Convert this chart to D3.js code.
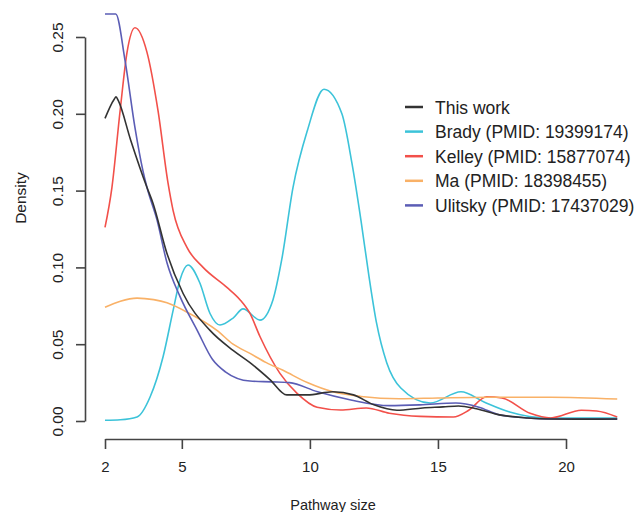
<!DOCTYPE html>
<html>
<head>
<meta charset="utf-8">
<script src="https://cdn.jsdelivr.net/npm/d3@7"></script>
<style>
  html, body { margin: 0; padding: 0; background: #fff; }
  svg { display: block; }
  text { font-family: "Liberation Sans", Arial, Helvetica, sans-serif; fill: #222; }
</style>
</head>
<body>
<svg id="chart" width="637" height="512"></svg>
<script>
// ---- data ----
const seriesNames = ["This work", "Brady (PMID: 19399174)", "Kelley (PMID: 15877074)", "Ma (PMID: 18398455)", "Ulitsky (PMID: 17437029)"];
const seriesColors = ["#333333", "#3cc3d9", "#f2504a", "#f9b167", "#5b5db5"];

const thisWorkX = [2, 2.36, 2.43, 2.52, 3.0, 3.64, 3.87, 4.42, 5.05, 6.1, 7.0, 7.66, 8.44, 9.1, 9.9, 10.9, 11.7, 12.5, 13.4, 14.4, 15.2, 15.8, 16.5, 17.4, 18.5, 19.4, 20.5, 22];
const thisWorkY = [0.197, 0.2095, 0.211, 0.2085, 0.183, 0.152, 0.142, 0.109, 0.083, 0.059, 0.046, 0.038, 0.027, 0.017, 0.017, 0.019, 0.017, 0.0105, 0.007, 0.0085, 0.0092, 0.0098, 0.008, 0.004, 0.002, 0.0013, 0.0012, 0.0013];

const bradyX = [2, 2.6, 3.25, 3.76, 4.27, 4.66, 4.93, 5.24, 5.7, 6.1, 6.49, 7.0, 7.39, 8.05, 8.56, 8.9, 9.34, 9.9, 10.55, 11.25, 11.64, 12.0, 12.3, 12.6, 13.0, 13.55, 14.7, 15.9, 16.8, 17.8, 19.3, 22];
const bradyY = [0.0005, 0.0008, 0.0026, 0.0156, 0.042, 0.072, 0.092, 0.1016, 0.090, 0.070, 0.0625, 0.067, 0.073, 0.0657, 0.079, 0.105, 0.152, 0.189, 0.216, 0.200, 0.168, 0.130, 0.095, 0.064, 0.038, 0.0215, 0.0117, 0.019, 0.0124, 0.0059, 0.002, 0.002];

const kelleyX = [2, 2.27, 2.59, 2.86, 3.17, 3.64, 4.07, 4.46, 4.66, 5.2, 5.83, 6.76, 7.27, 7.66, 8.05, 8.83, 9.5, 10.28, 11.2, 12.2, 13.1, 14.3, 15.6, 16.2, 16.9, 17.5, 18.6, 19.4, 20.6, 21.2, 22];
const kelleyY = [0.126, 0.152, 0.202, 0.240, 0.256, 0.240, 0.202, 0.155, 0.137, 0.113, 0.100, 0.087, 0.079, 0.070, 0.055, 0.031, 0.018, 0.009, 0.0072, 0.0085, 0.005, 0.003, 0.0026, 0.007, 0.0158, 0.015, 0.005, 0.002, 0.007, 0.0065, 0.0026];

const maX = [2, 2.6, 3.25, 3.9, 4.42, 5.3, 6.37, 7.0, 7.66, 8.3, 8.95, 9.9, 10.9, 12.0, 13.5, 15.0, 17.0, 19.4, 22];
const maY = [0.074, 0.078, 0.080, 0.079, 0.077, 0.070, 0.059, 0.050, 0.044, 0.038, 0.033, 0.025, 0.019, 0.016, 0.0145, 0.015, 0.0155, 0.0155, 0.0143];

const ulitskyX = [2, 2.42, 2.78, 3.17, 3.48, 3.64, 4.03, 4.42, 4.93, 5.6, 6.2, 6.7, 7.66, 8.5, 9.2, 10.3, 11.6, 13.1, 14.3, 15.7, 16.6, 17.4, 18.5, 19.4, 22];
const ulitskyY = [0.265, 0.265, 0.235, 0.191, 0.163, 0.152, 0.131, 0.103, 0.081, 0.059, 0.040, 0.032, 0.026, 0.0255, 0.025, 0.019, 0.0137, 0.010, 0.0105, 0.0117, 0.009, 0.004, 0.002, 0.0013, 0.0012];

const xTicks = [2, 5, 10, 15, 20];
const yTicks = [0.00, 0.05, 0.10, 0.15, 0.20, 0.25];
const xTitle = "Pathway size";
const yTitle = "Density";

// ---- build ----
const svg = d3.select("#chart");
const x = d3.scaleLinear().domain([2, 20]).range([105, 566]);
const y = d3.scaleLinear().domain([0, 0.25]).range([421, 37]);

const allX = [thisWorkX, bradyX, kelleyX, maX, ulitskyX];
const allY = [thisWorkY, bradyY, kelleyY, maY, ulitskyY];
const series = seriesNames.map((name, i) => ({
  name, color: seriesColors[i],
  pts: allX[i].map((v, j) => [v, allY[i][j]])
}));

const line = d3.line().x(d => x(d[0])).y(d => y(d[1])).curve(d3.curveMonotoneX);

// draw order: put "This work" on top
const drawOrder = [1, 2, 3, 4, 0];
svg.append("g").selectAll("path").data(drawOrder.map(i => series[i])).join("path")
  .attr("d", d => line(d.pts))
  .attr("fill", "none")
  .attr("stroke", d => d.color)
  .attr("stroke-width", 1.6)
  .attr("stroke-linejoin", "round");

// y axis
const gy = svg.append("g").attr("transform", "translate(85,0)")
  .call(d3.axisLeft(y).tickValues(yTicks).tickSize(9).tickSizeOuter(0).tickFormat(d3.format(".2f")));
gy.select(".domain").attr("stroke", "#444").attr("stroke-width", 1.6);
gy.selectAll(".tick line").attr("stroke", "#444").attr("stroke-width", 1.6);
gy.selectAll(".tick text")
  .attr("transform", "rotate(-90)")
  .attr("x", 0).attr("y", -22).attr("dy", 0)
  .attr("text-anchor", "middle")
  .attr("font-size", 15.5)
  .attr("font-family", "Liberation Sans, Arial, sans-serif")
  .attr("fill", "#222");

// x axis
const gx = svg.append("g").attr("transform", "translate(0,439)")
  .call(d3.axisBottom(x).tickValues(xTicks).tickSize(10).tickSizeOuter(0).tickFormat(d3.format("d")));
gx.select(".domain").attr("stroke", "#444").attr("stroke-width", 1.6);
gx.selectAll(".tick line").attr("stroke", "#444").attr("stroke-width", 1.6);
gx.selectAll(".tick text")
  .attr("y", 33).attr("dy", 0)
  .attr("font-size", 15)
  .attr("font-family", "Liberation Sans, Arial, sans-serif")
  .attr("fill", "#222");

// titles
svg.append("text").attr("x", 333).attr("y", 510).attr("text-anchor", "middle")
  .attr("font-size", 14.5).text(xTitle);
svg.append("text").attr("transform", "translate(26,198) rotate(-90)").attr("text-anchor", "middle")
  .attr("font-size", 15.5).text(yTitle);

// legend
const leg = svg.append("g").attr("transform", "translate(405,107)");
const rows = leg.selectAll("g").data(series).join("g")
  .attr("transform", (d, i) => `translate(0,${i * 24.6})`);
rows.append("line").attr("x1", 0).attr("x2", 18).attr("y1", 0).attr("y2", 0)
  .attr("stroke", d => d.color).attr("stroke-width", 2.5);
rows.append("text").attr("x", 30).attr("y", 6.5).attr("font-size", 17.5).text(d => d.name);
</script>
</body>
</html>
